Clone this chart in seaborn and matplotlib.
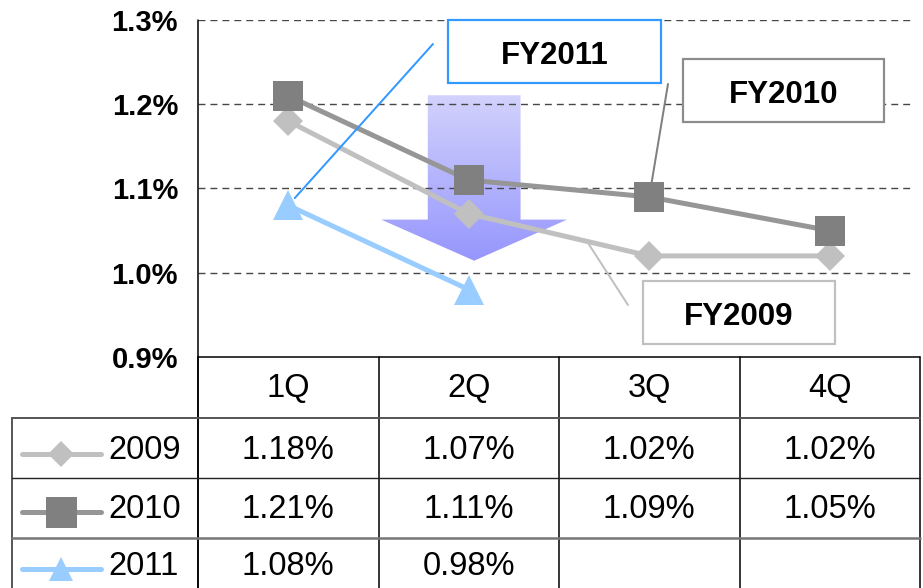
import numpy as np
import pandas as pd
import matplotlib
matplotlib.use("Agg")
import matplotlib.pyplot as plt
import matplotlib.transforms as mtransforms
from matplotlib.patches import Rectangle, Polygon
from matplotlib.lines import Line2D
from matplotlib.colors import LinearSegmentedColormap
import seaborn as sns

# ---- data -------------------------------------------------------------
quarters = ["1Q", "2Q", "3Q", "4Q"]
years = ["2009", "2010", "2011"]
rate_2009 = [1.18, 1.07, 1.02, 1.02]
rate_2010 = [1.21, 1.11, 1.09, 1.05]
rate_2011 = [1.08, 0.98]
y_ticks = [0.9, 1.0, 1.1, 1.2, 1.3]

series = {"2009": rate_2009, "2010": rate_2010, "2011": rate_2011}
records = [
    {"year": yr, "pos": i, "quarter": quarters[i], "rate": v}
    for yr, vals in series.items()
    for i, v in enumerate(vals)
]
df = pd.DataFrame(records)

# ---- styling ----------------------------------------------------------
sns.set_theme(style="white")
plt.rcParams["font.family"] = ["Liberation Sans", "DejaVu Sans"]
plt.rcParams["lines.scale_dashes"] = False

PX = 0.72  # points per pixel at 100 dpi

styles = {
    "2009": dict(line="#c0c0c0", face="#c0c0c0", marker="D", ms=21.2 * PX, leg_ms=19 * PX,
                 lead="#c0c0c0", box="#c0c0c0"),
    "2010": dict(line="#969696", face="#808080", marker="s", ms=30 * PX, leg_ms=31 * PX,
                 lead="#808080", box="#8c8c8c"),
    "2011": dict(line="#99ccff", face="#99ccff", marker="^", ms=30 * PX, leg_ms=24 * PX,
                 lead="#3399ff", box="#3399ff"),
}

W, H = 923, 588
fig = plt.figure(figsize=(W / 100, H / 100), dpi=100)
fig.patch.set_facecolor("white")

# plot region in pixel terms
L, R, T, B = 198, 920, 20, 357
ax = fig.add_axes([L / W, 1 - B / H, (R - L) / W, (B - T) / H])
ax.set_facecolor("none")

ov = fig.add_axes([0, 0, 1, 1], zorder=3)
ov.set_xlim(0, W)
ov.set_ylim(H, 0)
ov.axis("off")

ax.set_xlim(-0.5, len(quarters) - 0.5)
ax.set_ylim(y_ticks[0], y_ticks[-1])

# ---- lines ------------------------------------------------------------
for yr in years:
    st = styles[yr]
    sub = df[df["year"] == yr]
    sns.lineplot(data=sub, x="pos", y="rate", ax=ax, sort=False,
                 color=st["line"], lw=5 * PX, marker=st["marker"],
                 markersize=st["ms"], markerfacecolor=st["face"],
                 markeredgewidth=0, zorder=3, legend=False)

# dashed gridlines
for t in y_ticks[1:]:
    ax.axhline(t, xmin=0, xmax=(913 - L) / (R - L), color="#474747",
               lw=1.0, ls=(0, (5, 3.6)), zorder=1)

# downward gradient arrow behind the lines
cx = 1.03
shaft, head = 0.257, 0.515
y_top, y_base, y_tip = 1.2107, 1.0631, 1.0143
verts = [(cx - shaft, y_top), (cx + shaft, y_top), (cx + shaft, y_base),
         (cx + head, y_base), (cx, y_tip), (cx - head, y_base),
         (cx - shaft, y_base)]
grad = np.linspace(0, 1, 256).reshape(-1, 1)
cmap = LinearSegmentedColormap.from_list("fade", ["#9696fe", "#d2d2fc"])
im = ax.imshow(grad, extent=[cx - head, cx + head, y_tip, y_top], origin="lower",
               cmap=cmap, aspect="auto", zorder=0.8)
clip = Polygon(verts, closed=True, facecolor="none", edgecolor="none",
               transform=ax.transData)
ax.add_patch(clip)
im.set_clip_path(clip)
ax.set_xlim(-0.5, len(quarters) - 0.5)
ax.set_ylim(y_ticks[0], y_ticks[-1])

# axis formatting
ax.set_xticks([])
ax.set_xlabel("")
ax.set_ylabel("")
ax.set_yticks(y_ticks)
ax.set_yticklabels([f"{t:.1f}%" for t in y_ticks], fontsize=21, fontweight="bold")
ax.tick_params(axis="y", length=0, pad=20 * PX, colors="black")
for s in ax.spines.values():
    s.set_visible(False)

# ---- callouts ---------------------------------------------------------
# leader lines (data end -> pixel start)
ax.annotate("", xy=(0, rate_2011[0]), xycoords="data",
            xytext=(433, 44), textcoords=ov.transData,
            arrowprops=dict(arrowstyle="-", color=styles["2011"]["lead"], lw=2 * PX,
                            shrinkA=0, shrinkB=7), zorder=5)
ax.annotate("", xy=(2, rate_2010[2]), xycoords="data",
            xytext=(668, 84), textcoords=ov.transData,
            arrowprops=dict(arrowstyle="-", color=styles["2010"]["lead"], lw=2 * PX,
                            shrinkA=0, shrinkB=0), zorder=2)
x09 = 1.655
ax.annotate("", xy=(x09, np.interp(x09, range(len(rate_2009)), rate_2009)),
            xycoords="data", xytext=(628, 305), textcoords=ov.transData,
            arrowprops=dict(arrowstyle="-", color=styles["2009"]["lead"], lw=2 * PX,
                            shrinkA=0, shrinkB=0), zorder=2)

boxes = {"2011": (448, 20, 661, 83), "2010": (683, 59, 884, 122), "2009": (643, 281, 835, 344)}
for yr, (x0, y0, x1, y1) in boxes.items():
    ov.add_patch(Rectangle((x0, y0), x1 - x0, y1 - y0, facecolor="white",
                           edgecolor=styles[yr]["box"], lw=2.2 * PX))
    ov.text((x0 + x1) / 2, (y0 + y1) / 2 + 12.5, f"FY{yr}", ha="center", va="baseline",
            fontsize=22.5, fontweight="bold", color="black")

# ---- data table -------------------------------------------------------
tx = mtransforms.blended_transform_factory(ax.transData, ov.transData)
row_top = [357, 418, 478, 538]
row_base = [397, 459, 518, 575]
sample_y = [454, 512, 569]

# outer/left spine and column separators
ov.add_line(Line2D([L, L], [T, H], color="black", lw=1.1))
for c in np.arange(len(quarters) + 1) - 0.5:
    ov.add_line(Line2D([c, c], [B, H], color="black", lw=1.1, transform=tx))
ov.add_line(Line2D([12, 12], [row_top[1], H], color="#555555", lw=1.4))
ov.add_line(Line2D([L, R], [B, B], color="black", lw=1.1))
ov.add_line(Line2D([12, R], [row_top[1], row_top[1]], color="#555555", lw=1.4))
ov.add_line(Line2D([12, R], [row_top[2], row_top[2]], color="#222222", lw=1.0))
ov.add_line(Line2D([12, R], [row_top[3], row_top[3]], color="#777777", lw=1.8))

for i, q in enumerate(quarters):
    ov.text(i, row_base[0], q, transform=tx, ha="center", va="baseline",
            fontsize=23.5, color="black")

for r, yr in enumerate(years):
    st = styles[yr]
    vals = series[yr]
    for i, v in enumerate(vals):
        ov.text(i, row_base[r + 1], f"{v:.2f}%", transform=tx, ha="center",
                va="baseline", fontsize=23.5, color="black")
    sy = sample_y[r]
    ov.add_line(Line2D([22, 61, 101], [sy, sy, sy], color=st["line"], lw=5 * PX,
                       solid_capstyle="round", marker=st["marker"], markevery=[1],
                       markersize=st["leg_ms"], markerfacecolor=st["face"],
                       markeredgewidth=0))
    ov.text(108, row_base[r + 1], yr, ha="left", va="baseline", fontsize=23.5,
            color="black")

fig.savefig("out.png", dpi=100, facecolor="white")
